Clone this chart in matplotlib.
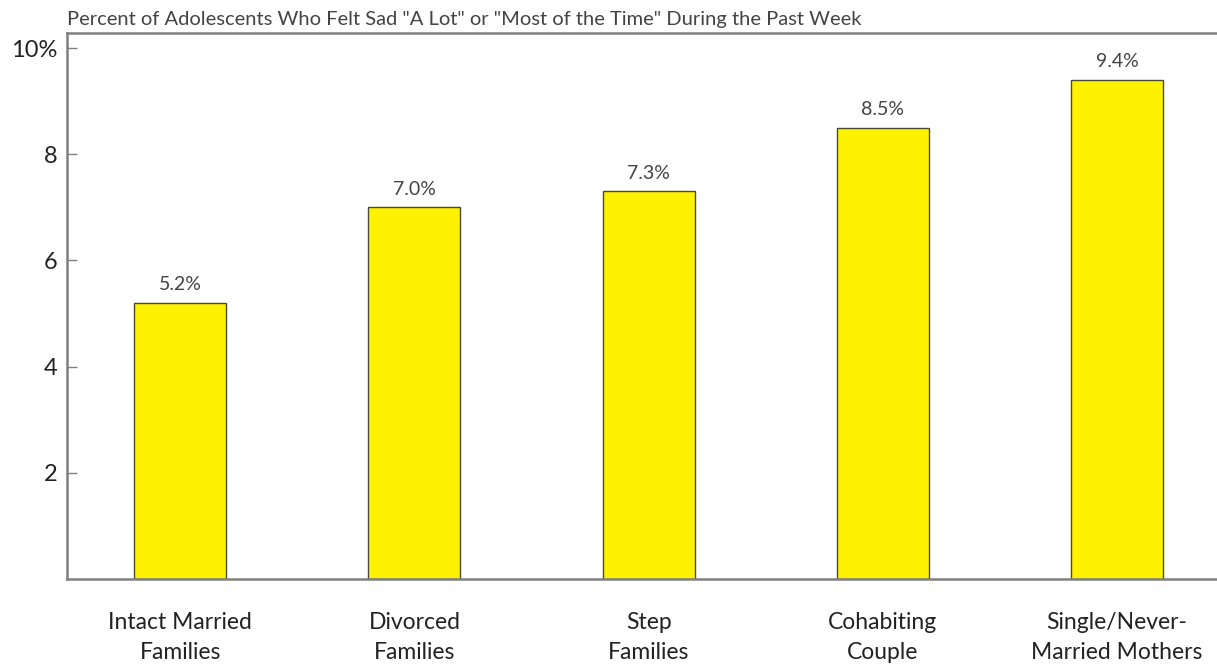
import matplotlib.pyplot as plt
import numpy as np

plt.rcParams['font.family'] = ['Lato', 'DejaVu Sans']

# Data
categories = ['Intact Married\nFamilies', 'Divorced\nFamilies', 'Step\nFamilies',
              'Cohabiting\nCouple', 'Single/Never-\nMarried Mothers']
values = [5.2, 7.0, 7.3, 8.5, 9.4]
value_labels = ['5.2%', '7.0%', '7.3%', '8.5%', '9.4%']
yticks = [2, 4, 6, 8, 10]
ytick_labels = ['2', '4', '6', '8', '10%']
title = 'Percent of Adolescents Who Felt Sad "A Lot" or "Most of the Time" During the Past Week'

fig = plt.figure(figsize=(12.17, 6.64), dpi=100)
ax = fig.add_axes([0.0551, 0.128, 0.9449, 0.822])

x = np.arange(len(categories))
bars = ax.bar(x, values, width=0.393, color='#fff200', edgecolor='#4a4a30', linewidth=1.0)

for b, lab in zip(bars, value_labels):
    ax.annotate(lab, (b.get_x() + b.get_width() / 2, b.get_height()),
                xytext=(0, 7), textcoords='offset points',
                ha='center', va='bottom', fontsize=14, color='#444444')

ax.set_xlim(-0.483, 4.427)
ax.set_ylim(0, 10.28)
ax.set_yticks(yticks)
ax.set_yticklabels(ytick_labels, fontsize=17, color='#222222')
ax.set_xticks(x)
ax.set_xticklabels(categories, fontsize=16.5, color='#222222', linespacing=1.5)
ax.tick_params(axis='x', length=0, pad=24)
ax.tick_params(axis='y', direction='in', length=7, width=1, color='#808080', pad=7)

for side in ['left', 'bottom', 'top']:
    ax.spines[side].set_color('#808080')
    ax.spines[side].set_linewidth(1.8)
ax.spines['right'].set_visible(False)

fig.text(0.0551, 0.970, title, ha='left', va='center', fontsize=14.5, color='#444444')

plt.savefig('out.png', dpi=100)
